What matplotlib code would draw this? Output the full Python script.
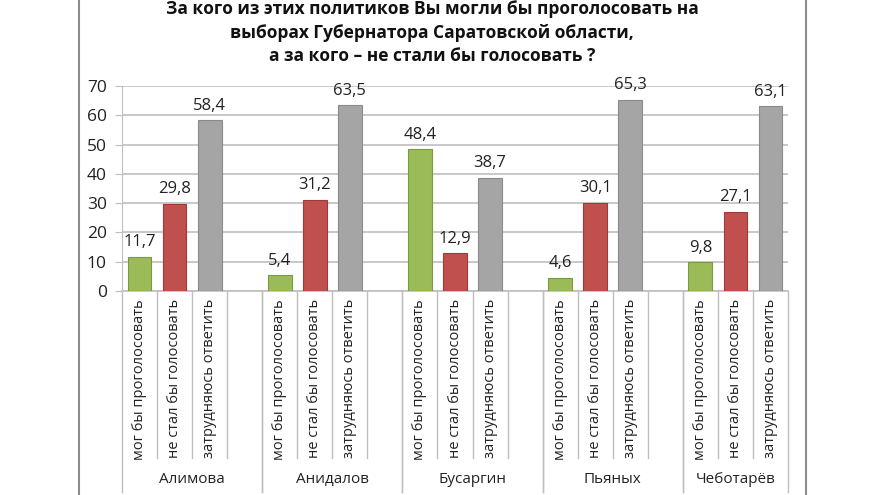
import matplotlib.pyplot as plt
from matplotlib.lines import Line2D

plt.rcParams['font.family'] = ['Open Sans', 'DejaVu Sans']

politicians = ["Алимова", "Анидалов", "Бусаргин", "Пьяных", "Чеботарёв"]
answers = ["мог бы проголосовать", "не стал бы голосовать", "затрудняюсь ответить"]
would_vote = [11.7, 5.4, 48.4, 4.6, 9.8]
would_not = [29.8, 31.2, 12.9, 30.1, 27.1]
undecided = [58.4, 63.5, 38.7, 65.3, 63.1]
colors = ["#9BBB59", "#C0504D", "#A5A5A5"]
edges = ["#7A9A3F", "#9E3B38", "#8A8A8A"]

title = ("За кого из этих политиков Вы могли бы проголосовать на\n"
         "выборах Губернатора Саратовской области,\n"
         "а за кого – не стали бы голосовать ?")

fig = plt.figure(figsize=(8.8, 4.95), dpi=100)
ax = fig.add_axes([122 / 880, 1 - 291 / 495, 666 / 880, 205 / 495])

series = [would_vote, would_not, undecided]
slot = 4  # 3 bars + one empty slot per group
for k, vals in enumerate(series):
    xs = [g * slot + k for g in range(len(politicians))]
    ax.bar(xs, vals, width=0.68, color=colors[k], edgecolor=edges[k], linewidth=0.8, zorder=3)
    for x, v in zip(xs, vals):
        ax.text(x, v + 2.2, f"{v:.1f}".replace(".", ","), ha="center", va="bottom",
                fontsize=12, color="#222222")

n_slots = slot * len(politicians) - 1
ax.set_xlim(-0.5, n_slots - 0.5)
ax.set_ylim(0, 70)
ax.set_yticks(range(0, 71, 10))
ax.yaxis.grid(True, color="#BFBFBF", linewidth=1.2, zorder=0)
ax.tick_params(axis="y", length=5, color="#BFBFBF", labelsize=12.5, labelcolor="#222222", pad=6)
ax.set_xticks([])
for s in ["top", "right"]:
    ax.spines[s].set_visible(False)
ax.spines["left"].set_color("#BFBFBF")
ax.spines["bottom"].set_color("#BFBFBF")
ax.spines["bottom"].set_linewidth(1.2)

trans = ax.get_xaxis_transform()
# slot labels and slot dividers
for g, name in enumerate(politicians):
    base = g * slot
    for k, ans in enumerate(answers):
        ax.text(base + k, -0.04, ans, rotation=90, ha="center", va="top",
                transform=trans, fontsize=10.5, color="#222222")
    for k in range(1, 4):
        if base + k - 0.5 < n_slots - 0.5:
            ax.add_line(Line2D([base + k - 0.5] * 2, [0, -0.815], transform=trans,
                               color="#BFBFBF", lw=1, clip_on=False))
    right = min(base + slot - 0.5, n_slots - 0.5)
    ax.text((base - 0.5 + right) / 2, -0.92, name, ha="center", va="center",
            transform=trans, fontsize=11, color="#222222")
    for xb in (base - 0.5, right):
        ax.add_line(Line2D([xb, xb], [0, -0.98], transform=trans,
                           color="#BFBFBF", lw=1, clip_on=False))

fig.text(432 / 880, 1 - 0 / 495, title, ha="center", va="top", fontsize=12.5,
         fontweight="bold", linespacing=1.4, color="#111111")

# frame lines at the sides
for xf in (79 / 880, 806 / 880):
    fig.add_artist(Line2D([xf, xf], [0, 1], transform=fig.transFigure,
                          color="#8C8C8C", lw=1.5))

fig.savefig("out.png", dpi=100)
